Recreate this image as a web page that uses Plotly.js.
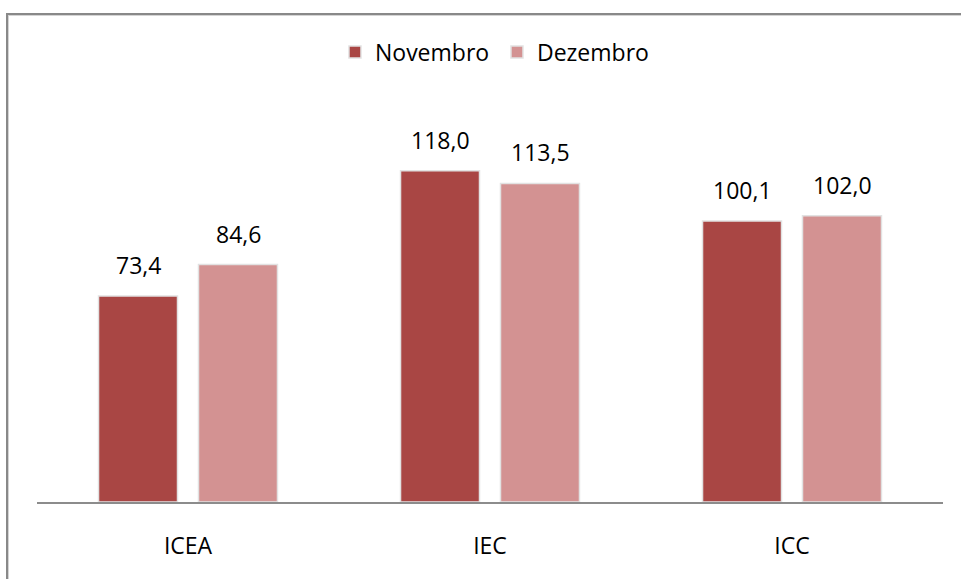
<!DOCTYPE html>
<html>
<head>
<meta charset="utf-8">
<script src="https://cdn.plot.ly/plotly-3.0.1.min.js"></script>
<style>
html,body{margin:0;padding:0;background:#fff;overflow:hidden;}
#chart{width:961px;height:579px;position:absolute;left:0;top:0;}
#frame{position:absolute;left:6px;top:13px;width:1200px;height:800px;border-top:2px solid #898989;border-left:2px solid #898989;pointer-events:none;}
#frame2{position:absolute;left:8px;top:15px;width:1200px;height:800px;border-top:1px solid #d4d4d4;border-left:1px solid #d4d4d4;pointer-events:none;}
</style>
</head>
<body>
<div id="chart"></div>
<div id="frame"></div>
<div id="frame2"></div>
<script>
var categories = ["ICEA", "IEC", "ICC"];
var novembro = [73.4, 118.0, 100.1];
var dezembro = [84.6, 113.5, 102.0];
var seriesNames = ["Novembro", "Dezembro"];

function fmt(v){ return v.toFixed(1).replace(".", ","); }

var font = "'Open Sans', sans-serif";
var colors = ["#A94644", "#D39292"];

var traces = [
  {type:"bar", name:seriesNames[0], x:categories, y:novembro,
   marker:{color:colors[0], line:{color:"#e2e2e2", width:1.5}}, hoverinfo:"skip"},
  {type:"bar", name:seriesNames[1], x:categories, y:dezembro,
   marker:{color:colors[1], line:{color:"#e2e2e2", width:1.5}}, hoverinfo:"skip"}
];

var annotations = [];
[novembro, dezembro].forEach(function(arr, si){
  arr.forEach(function(v, i){
    annotations.push({x:categories[i], y:v, xref:"x", yref:"y", text:fmt(v),
      showarrow:false, xshift: si===0 ? -50 : 50, yanchor:"bottom", yshift:13,
      font:{family:font, size:23, color:"#000"}});
  });
});

var layout = {
  width:961, height:579,
  margin:{l:37, r:18, t:108.6, b:77, pad:0},
  paper_bgcolor:"rgba(0,0,0,0)", plot_bgcolor:"rgba(0,0,0,0)",
  barmode:"group", bargap:0.338, bargroupgap:0.21,
  showlegend:true,
  legend:{orientation:"h", x:0.5077, xanchor:"center", y:1.145, yanchor:"middle",
    font:{family:font, size:23, color:"#000"}, itemwidth:30, traceorder:"normal",
    entrywidth:117},
  xaxis:{showline:true, linecolor:"#8c8c8c", linewidth:1.5, ticks:"", showgrid:false,
    tickfont:{family:font, size:23, color:"#000"}, ticklabelstandoff:23, fixedrange:true},
  yaxis:{range:[0,140], visible:false, showgrid:false, zeroline:false, fixedrange:true},
  annotations:annotations,
  font:{family:font}
};

Plotly.newPlot("chart", traces, layout, {displayModeBar:false, staticPlot:true});
</script>
</body>
</html>
